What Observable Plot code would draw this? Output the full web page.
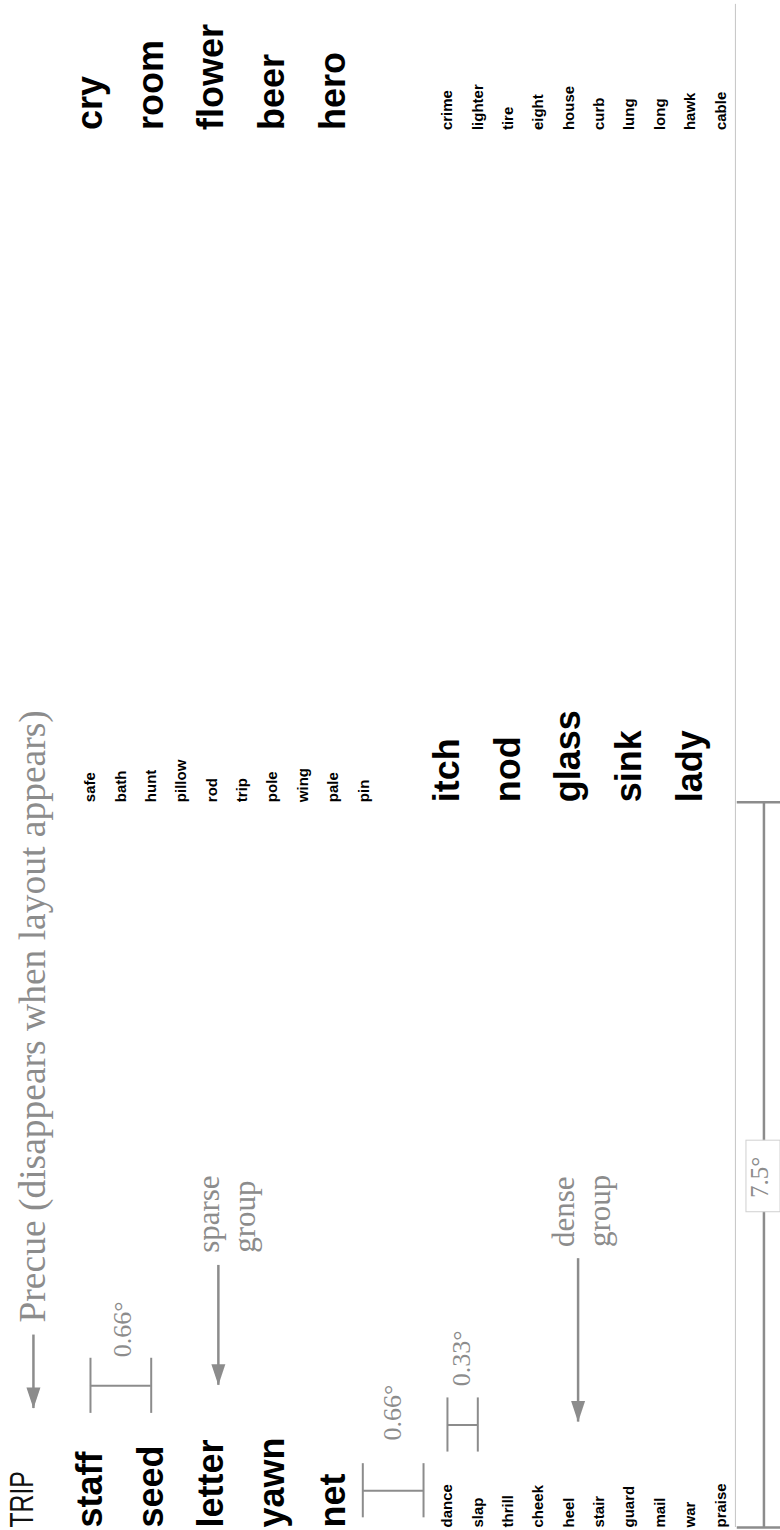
<!DOCTYPE html>
<html><head><meta charset="utf-8">
<script src="https://cdn.jsdelivr.net/npm/d3@7"></script>
<script src="https://cdn.jsdelivr.net/npm/@observablehq/plot@0.6"></script>
<style>html,body{margin:0;padding:0;background:#fff;} #chart svg{display:block;}</style>
</head><body><div id="chart"></div>
<script>
// ---- words ----
const precueWord = ["TRIP"];
const precueText = ["Precue (disappears when layout appears)"];
const leftLarge = ["staff","seed","letter","yawn","net"];
const leftSmall = ["dance","slap","thrill","cheek","heel","stair","guard","mail","war","praise"];
const midSmall = ["safe","bath","hunt","pillow","rod","trip","pole","wing","pale","pin"];
const midLarge = ["itch","nod","glass","sink","lady"];
const rightLarge = ["cry","room","flower","beer","hero"];
const rightSmall = ["crime","lighter","tire","eight","house","curb","lung","long","hawk","cable"];

// ---- layout values (degrees of visual angle) ----
const columnStart = [0, 7.5, 14.45];     // start of each column of words
const groupStart = [0, 3.88];            // first row of upper / lower group
const largeSpacing = 0.66;               // sparse group row spacing
const smallSpacing = 0.33;               // dense group row spacing
const precueRow = [-0.74];
const borderRow = [7.01];

// spacing brackets
const bracketRow1 = [0, 2.96, 3.88];
const bracketRow2 = [0.66, 3.62, 4.21];
const bracketFrom = [1.18, 0.10, 0.78];
const bracketTo = [1.75, 0.66, 1.34];
const bracketLabel = ["0.66°", "0.66°", "0.33°"];
const bracketLabelRow = [0.35, 3.29, 4.03];
const bracketLabelAt = [1.76, 0.90, 1.46];

// arrows
const arrowRow = [-0.62, 1.39, 5.30];
const arrowFrom = [1.99, 2.71, 2.78];
const arrowTo = [1.23, 1.47, 1.09];
const groupLabel = ["sparse\ngroup", "dense\ngroup"];
const groupLabelRow = [1.47, 5.33];
const groupLabelAt = [2.84, 2.90];

// column distance
const columnDistance = ["7.5°"];
const distanceRow = [7.32];

const gray = "#8c8c8c";
const sans = "'Liberation Sans', Arial, Helvetica, sans-serif";
const serif = "'Liberation Serif', 'Times New Roman', serif";

function rows(words, col, group, spacing) {
  return words.map((w, i) => ({word: w, y: columnStart[col], x: groupStart[group] + i * spacing}));
}
const large = [
  ...rows(leftLarge, 0, 0, largeSpacing),
  ...rows(midLarge, 1, 1, largeSpacing),
  ...rows(rightLarge, 2, 0, largeSpacing)
];
const small = [
  ...rows(leftSmall, 0, 1, smallSpacing),
  ...rows(midSmall, 1, 0, smallSpacing),
  ...rows(rightSmall, 2, 1, smallSpacing)
];
const brackets = bracketRow1.map((r, i) => ({r1: r, r2: bracketRow2[i], from: bracketFrom[i], to: bracketTo[i],
  mid: (bracketFrom[i] + bracketTo[i]) / 2, label: bracketLabel[i], labelRow: bracketLabelRow[i], labelAt: bracketLabelAt[i]}));
const arrows = arrowRow.map((r, i) => ({x: r, from: arrowFrom[i], to: arrowTo[i]}));
const groupLabels = groupLabel.map((t, i) => ({t, x: groupLabelRow[i], y: groupLabelAt[i]}));
const span = [{x: distanceRow[0], from: columnStart[0], to: columnStart[1], label: columnDistance[0]}];

const arrowHead = {
  draw(context, size) {
    const s = Math.sqrt(size / Math.PI);
    context.moveTo(0, 0);
    context.lineTo(-s, -3 * s);
    context.lineTo(s, -3 * s);
    context.closePath();
  }
};

const plot = Plot.plot({
  width: 780, height: 1530, margin: 0,
  x: {domain: [-0.978, 7.5], range: [0, 780], axis: null},
  y: {domain: [0, 15.79], range: [1527, 0], axis: null},
  marks: [
    Plot.ruleX(borderRow, {x: d => d, y1: 0, y2: 15.75, stroke: "#c4c4c4", strokeWidth: 1}),
    // words
    Plot.text(precueWord, {x: () => precueRow[0], y: () => columnStart[0], text: d => d, rotate: -90,
      textAnchor: "start", lineAnchor: "middle", fontSize: 33, fontFamily: sans, fill: "#111", className: "narrow"}),
    Plot.text(large, {x: "x", y: "y", text: "word", rotate: -90, textAnchor: "start", lineAnchor: "middle",
      fontSize: 36, fontWeight: "bold", fontFamily: sans, fill: "#000"}),
    Plot.text(small, {x: "x", y: "y", text: "word", rotate: -90, textAnchor: "start", lineAnchor: "middle",
      fontSize: 15, fontWeight: 600, fontFamily: sans, fill: "#000"}),
    // precue annotation
    Plot.text(precueText, {x: () => arrowRow[0], y: () => 2.12, text: d => d, rotate: -90,
      textAnchor: "start", lineAnchor: "middle", fontSize: 37.5, fontFamily: serif, fill: gray}),
    // arrows
    Plot.ruleX(arrows, {x: "x", y1: "from", y2: "to", stroke: gray, strokeWidth: 2.5}),
    Plot.dot(arrows, {x: "x", y: "to", symbol: arrowHead, r: 7, fill: gray, stroke: null}),
    Plot.text(groupLabels, {x: "x", y: "y", text: "t", rotate: -90, textAnchor: "start", lineAnchor: "middle",
      fontSize: 31, lineHeight: 1.15, fontFamily: serif, fill: gray}),
    // spacing brackets
    Plot.ruleX(brackets, {x: "r1", y1: "from", y2: "to", stroke: gray, strokeWidth: 2}),
    Plot.ruleX(brackets, {x: "r2", y1: "from", y2: "to", stroke: gray, strokeWidth: 2}),
    Plot.ruleY(brackets, {y: "mid", x1: "r1", x2: "r2", stroke: gray, strokeWidth: 2}),
    Plot.text(brackets, {x: "labelRow", y: "labelAt", text: "label", rotate: -90, textAnchor: "start", lineAnchor: "middle",
      fontSize: 26, fontFamily: serif, fill: gray}),
    // column distance bracket
    Plot.ruleX(span, {x: "x", y1: "from", y2: "to", stroke: gray, strokeWidth: 2.5}),
    Plot.ruleY(span, {y: "from", x1: 7.03, x2: 7.5, stroke: gray, strokeWidth: 2.5}),
    Plot.ruleY(span, {y: "to", x1: 7.03, x2: 7.5, stroke: gray, strokeWidth: 2.5}),
    Plot.rect(span, {x1: 7.13, x2: 7.5, y1: 3.26, y2: 4.0, fill: "white", stroke: "#d0d0d0", strokeWidth: 1}),
    Plot.text(span, {x: d => d.x - 0.04, y: 3.62, text: "label", rotate: -90, textAnchor: "middle", lineAnchor: "middle",
      fontSize: 25, fontFamily: serif, fill: gray})
  ]
});
d3.select(plot).selectAll(".narrow text").attr("transform", function() {
  return this.getAttribute("transform") + " scale(0.75,1)";
});
document.getElementById("chart").appendChild(plot);
</script>
</body></html>
